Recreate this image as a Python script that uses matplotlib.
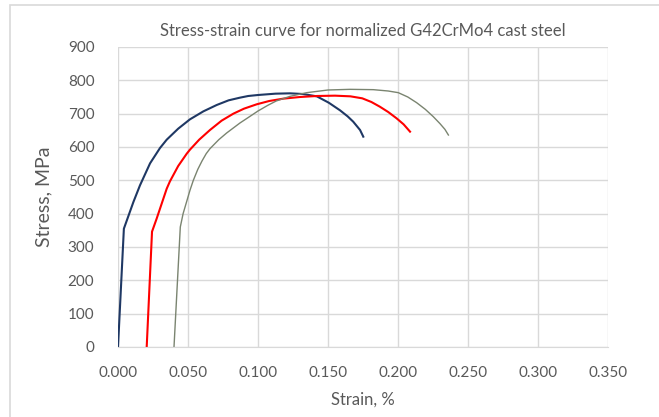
import matplotlib
matplotlib.use("Agg")
import matplotlib.pyplot as plt
from matplotlib.patches import Rectangle

plt.rcParams["font.family"] = ["Lato", "DejaVu Sans"]

TEXT_GRAY = "#595959"
GRID_GRAY = "#d9d9d9"

# strain (%) / stress (MPa)
blue_strain = [0.000, 0.0042, 0.011, 0.0157, 0.0229, 0.030, 0.0348, 0.0430, 0.0514, 0.0610, 0.0705,
               0.079, 0.0871, 0.093, 0.100, 0.1125, 0.1229, 0.132, 0.142, 0.1505, 0.1586, 0.164,
               0.168, 0.1729, 0.1752]
blue_stress = [0, 355, 435, 485, 551, 597, 622, 655, 683, 707, 726,
               740, 748, 753, 756, 760, 761, 759, 752, 733, 710, 692,
               676, 651, 631]

red_strain = [0.0205, 0.0243, 0.0276, 0.0348, 0.0371, 0.0430, 0.0491, 0.0514, 0.0580, 0.0657,
              0.0740, 0.0824, 0.090, 0.099, 0.108, 0.118, 0.130, 0.142, 0.155, 0.166,
              0.1745, 0.181, 0.187, 0.193, 0.199, 0.204, 0.2086]
red_stress = [0, 346, 385, 475, 497, 543, 580, 592, 622, 651,
              679, 700, 715, 728, 738, 745, 750, 753, 754, 752,
              746, 735, 721, 705, 686, 668, 646]

green_strain = [0.040, 0.0445, 0.0465, 0.0514, 0.0538, 0.057, 0.060, 0.063, 0.0657, 0.0720,
                0.0776, 0.0871, 0.0943, 0.100, 0.107, 0.113, 0.1229, 0.1348, 0.150, 0.1657,
                0.1824, 0.193, 0.2002, 0.207, 0.2133, 0.2195, 0.2252, 0.230, 0.2335, 0.236]
green_stress = [0, 360, 400, 470, 500, 533, 558, 580, 595, 622,
                642, 672, 692, 708, 725, 738, 752, 763, 771, 773,
                772, 768, 763, 750, 733, 713, 691, 670, 653, 636]

x_ticks = [0.0, 0.05, 0.10, 0.15, 0.20, 0.25, 0.30, 0.35]
y_ticks = [0, 100, 200, 300, 400, 500, 600, 700, 800, 900]

fig = plt.figure(figsize=(6.59, 4.17), dpi=100)
fig.patches.append(Rectangle((10 / 659, -0.1), 1.2, 1.1 - 5 / 417, transform=fig.transFigure,
                             fill=False, edgecolor="#d9d9d9", linewidth=1.2))
ax = fig.add_axes([118 / 659, 70 / 417, 490 / 659, 300 / 417])

ax.plot(blue_strain, blue_stress, color="#1f3864", linewidth=1.5, solid_joinstyle="round")
ax.plot(red_strain, red_stress, color="#ff0000", linewidth=1.5, solid_joinstyle="round")
ax.plot(green_strain, green_stress, color="#7a8470", linewidth=1.0, solid_joinstyle="round")

ax.set_xlim(0, 0.35)
ax.set_ylim(0, 900)
ax.set_xticks(x_ticks)
ax.set_yticks(y_ticks)
ax.set_xticklabels([f"{v:.3f}" for v in x_ticks])
ax.grid(True, color=GRID_GRAY, linewidth=1.0)
ax.set_axisbelow(True)
for side in ["top", "right", "left"]:
    ax.spines[side].set_visible(False)
ax.spines["bottom"].set_color(GRID_GRAY)
ax.tick_params(length=0, labelsize=11, labelcolor=TEXT_GRAY)
ax.tick_params(axis="y", pad=17)
ax.tick_params(axis="x", pad=14)

ax.set_xlabel("Strain, %", fontsize=12, color=TEXT_GRAY, labelpad=8)
ax.set_ylabel("Stress, MPa", fontsize=14, color=TEXT_GRAY, labelpad=11)
ax.set_title("Stress-strain curve for normalized G42CrMo4 cast steel", fontsize=12,
             color=TEXT_GRAY, pad=8)

fig.savefig("out.png", dpi=100)
